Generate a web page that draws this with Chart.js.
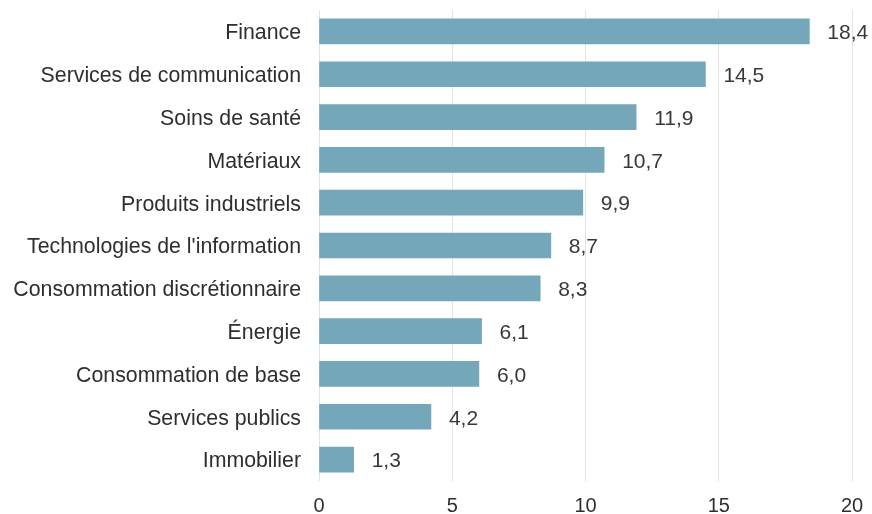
<!DOCTYPE html>
<html>
<head>
<meta charset="utf-8">
<script src="https://cdn.jsdelivr.net/npm/chart.js@4/dist/chart.umd.min.js"></script>
<style>
  html, body { margin:0; padding:0; background:#fff; }
  #wrap { width:872px; height:514px; }
</style>
</head>
<body>
<div id="wrap"><canvas id="c"></canvas></div>
<script>
const sectors = [
  "Finance",
  "Services de communication",
  "Soins de santé",
  "Matériaux",
  "Produits industriels",
  "Technologies de l'information",
  "Consommation discrétionnaire",
  "Énergie",
  "Consommation de base",
  "Services publics",
  "Immobilier"
];
const weights = [18.4, 14.5, 11.9, 10.7, 9.9, 8.7, 8.3, 6.1, 6.0, 4.2, 1.3];
const xTicks = [0, 5, 10, 15, 20];

const TEXT = "#2e2e2e";
const FONT = "'Liberation Sans', Arial, sans-serif";
const fmt = (v) => v.toFixed(1).replace(".", ",");

// value labels to the right of each bar
const valueLabels = {
  id: "valueLabels",
  afterDatasetsDraw(chart) {
    const ctx = chart.ctx;
    const meta = chart.getDatasetMeta(0);
    ctx.save();
    ctx.font = "21px " + FONT;
    ctx.fillStyle = "#383838";
    ctx.textAlign = "left";
    ctx.textBaseline = "middle";
    meta.data.forEach((bar, i) => {
      ctx.fillText(fmt(weights[i]), bar.x + 18, bar.y + 2);
    });
    ctx.restore();
  }
};

new Chart(document.getElementById("c"), {
  type: "bar",
  data: {
    labels: sectors,
    datasets: [{
      data: weights,
      backgroundColor: "#73a7b9",
      borderWidth: 0,
      barThickness: 25
    }]
  },
  options: {
    indexAxis: "y",
    responsive: true,
    maintainAspectRatio: false,
    animation: false,
    layout: { padding: { left: 0, right: 20, top: 10, bottom: 0 } },
    plugins: { legend: { display: false }, tooltip: { enabled: false } },
    scales: {
      x: {
        min: 0, max: 20,
        afterBuildTicks: (s) => { s.ticks = xTicks.map(v => ({ value: v })); },
        afterFit: (s) => { s.height = 33; s.paddingLeft = 0; s.paddingRight = 0; },
        ticks: { color: TEXT, font: { family: FONT, size: 20 }, padding: 13 },
        grid: { color: "#e3e3e3", lineWidth: 1, drawTicks: false },
        border: { display: false }
      },
      y: {
        afterFit: (s) => { s.width = 319; s.paddingTop = 0; s.paddingBottom = 0; },
        ticks: { color: TEXT, font: { family: FONT, size: 21.3 }, padding: 18, labelOffset: 2 },
        grid: { display: false, drawTicks: false },
        border: { display: false }
      }
    }
  },
  plugins: [valueLabels]
});
</script>
</body>
</html>
